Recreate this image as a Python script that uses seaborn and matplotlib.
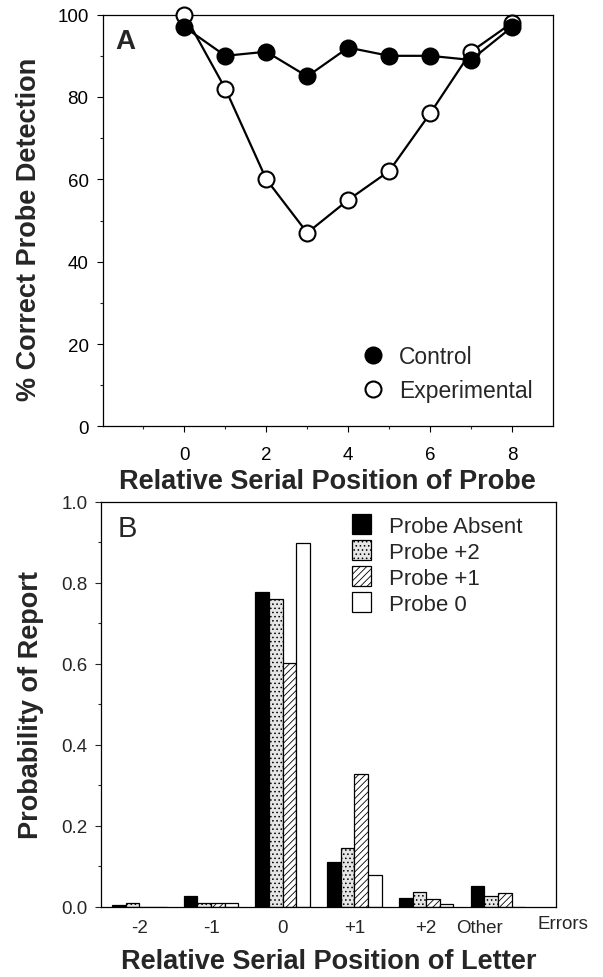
import numpy as np
import pandas as pd
import matplotlib
matplotlib.use("Agg")
import matplotlib.pyplot as plt
from matplotlib.lines import Line2D
import seaborn as sns

# panel A data
probe_pos = [0, 1, 2, 3, 4, 5, 6, 7, 8]
control = [97, 90, 91, 85, 92, 90, 90, 89, 97]
experimental = [100, 82, 60, 47, 55, 62, 76, 91, 98]

# panel B data
letter_pos = ["-2", "-1", "0", "+1", "+2", "Other"]
conditions = ["Probe Absent", "Probe +2", "Probe +1", "Probe 0"]
probe_absent = [0.005, 0.027, 0.778, 0.110, 0.021, 0.052]
probe_plus2 = [0.010, 0.010, 0.761, 0.145, 0.037, 0.026]
probe_plus1 = [0.0, 0.010, 0.602, 0.329, 0.019, 0.035]
probe_zero = [0.0, 0.010, 0.897, 0.078, 0.008, 0.0]

sns.set_style("ticks")
plt.rcParams['font.family'] = ['Liberation Sans', 'DejaVu Sans']
plt.rcParams['hatch.linewidth'] = 0.6

fig = plt.figure(figsize=(6.03, 9.78), dpi=100)
ax1 = fig.add_axes([0.170, 0.563, 0.747, 0.421])
ax2 = fig.add_axes([0.168, 0.0716, 0.754, 0.4144])

# ---- panel A
sns.lineplot(x=probe_pos, y=experimental, ax=ax1, color="black", lw=1.6,
             marker="o", markersize=11.5, markerfacecolor="white",
             markeredgecolor="black", markeredgewidth=1.5, clip_on=False,
             zorder=3)
sns.lineplot(x=probe_pos, y=control, ax=ax1, color="black", lw=1.6,
             marker="o", markersize=11.5, markerfacecolor="black",
             markeredgecolor="black", markeredgewidth=1.5, clip_on=False,
             zorder=4)
ax1.set_xlim(-2, 9)
ax1.set_ylim(0, 100)
ax1.set_xticks([0, 2, 4, 6, 8])
ax1.set_xticks(range(-1, 9), minor=True)
ax1.set_yticks([0, 20, 40, 60, 80, 100])
ax1.set_yticks(range(10, 100, 20), minor=True)
ax1.tick_params(labelsize=13.5, length=4, width=0.8, colors="black", pad=6)
ax1.tick_params(axis="x", pad=10)
ax1.tick_params(which="minor", length=2.5, width=0.8)
ax1.set_xlabel("Relative Serial Position of Probe", fontsize=19.5,
               fontweight="bold", labelpad=4)
ax1.set_ylabel("% Correct Probe Detection", fontsize=19.5,
               fontweight="bold")
ax1.yaxis.set_label_coords(-0.135, 0.48)
handles = [
    Line2D([], [], ls="none", marker="o", markersize=11.5, mfc="black",
           mec="black", mew=1.5),
    Line2D([], [], ls="none", marker="o", markersize=11.5, mfc="white",
           mec="black", mew=1.5),
]
ax1.legend(handles, ["Control", "Experimental"], loc="lower right",
           bbox_to_anchor=(1.0, 0.01), frameon=False, fontsize=16.5,
           handlelength=1.0, handletextpad=0.6, labelspacing=0.45)
ax1.text(0.028, 0.935, "A", transform=ax1.transAxes, fontsize=20,
         fontweight="bold", va="center", ha="left")

# ---- panel B
df = pd.DataFrame({
    "pos": letter_pos * 4,
    "cond": np.repeat(conditions, len(letter_pos)),
    "prob": probe_absent + probe_plus2 + probe_plus1 + probe_zero,
})
sns.barplot(data=df, x="pos", y="prob", hue="cond", order=letter_pos,
            hue_order=conditions, ax=ax2, width=0.76, legend=False,
            palette=["black", "#e6e6e6", "white", "white"],
            edgecolor="black", linewidth=0.9, saturation=1)
hatches = ["", "....", "/////", ""]
for cont, hatch in zip(ax2.containers, hatches):
    for bar in cont:
        bar.set_hatch(hatch)
ax2.legend(ax2.containers, conditions, loc="upper left",
           bbox_to_anchor=(0.515, 1.01), frameon=False, fontsize=16,
           handlelength=0.85, handleheight=1.0, handletextpad=0.8,
           labelspacing=0.15, borderaxespad=0.35)
ax2.set_xlim(-0.53, 5.81)
ax2.set_ylim(0, 1.0)
ax2.set_xticks([0, 1, 2, 3, 4, 4.75])
ax2.set_xticklabels(letter_pos)
ax2.set_yticks([0, 0.2, 0.4, 0.6, 0.8, 1.0])
ax2.set_yticklabels(["0.0", "0.2", "0.4", "0.6", "0.8", "1.0"])
ax2.set_yticks(np.arange(0.1, 1.0, 0.2), minor=True)
ax2.tick_params(axis="y", labelsize=13.5, length=4, width=0.8, pad=6)
ax2.tick_params(axis="y", which="minor", length=2.5, width=0.8)
ax2.tick_params(axis="x", labelsize=13.5, length=0, pad=9)
ax2.set_xlabel("Relative Serial Position of Letter", fontsize=19.5,
               fontweight="bold", labelpad=8)
ax2.set_ylabel("Probability of Report", fontsize=19.5, fontweight="bold",
               labelpad=12)
ax2.text(1.016, -0.042, "Errors", transform=ax2.transAxes, fontsize=13.5,
         va="center", ha="center")
ax2.text(0.035, 0.935, "B", transform=ax2.transAxes, fontsize=21,
         va="center", ha="left")

for ax in (ax1, ax2):
    for s in ax.spines.values():
        s.set_visible(True)
        s.set_color("black")
        s.set_linewidth(0.9)

fig.savefig("out.png", dpi=100)
